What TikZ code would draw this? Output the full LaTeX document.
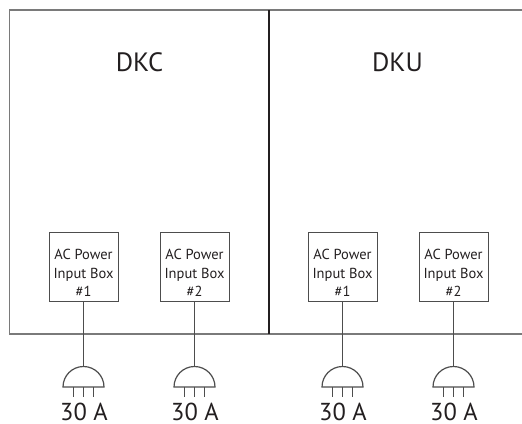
\documentclass[tikz,border=0pt]{standalone}
\usepackage{fontspec}
\setmainfont{PT Sans}
\definecolor{ink}{HTML}{231F20}
\definecolor{frame}{HTML}{7A7A7A}
\definecolor{wire}{HTML}{4D4D4D}
\begin{document}
\begin{tikzpicture}[x=1pt,y=-1pt,
  pbox/.style={draw=wire,line width=1pt,minimum width=69pt,minimum height=69pt,inner sep=0pt},
  ptext/.style={text=ink,align=center,font=\fontsize{14.5}{18.5}\selectfont,inner sep=0pt},
  biglabel/.style={text=ink,font=\fontsize{26.5}{30}\selectfont,anchor=base,inner sep=0pt},
  amps/.style={text=ink,font=\fontsize{24.5}{28}\selectfont,anchor=base,inner sep=0pt},
  wireline/.style={draw=wire,line width=1.2pt},
  plugline/.style={draw=wire,line width=1.2pt}]
\useasboundingbox (0,0) rectangle (522,423);
% cabinets
\draw[frame,line width=1.6pt] (269,10) -- (9.5,10) -- (9.5,334) -- (269,334);
\draw[frame,line width=1.6pt] (269,10) -- (530,10);
\draw[frame,line width=1.6pt] (269,334) -- (530,334);
\draw[ink,line width=2pt] (269,10) -- (269,334);
\node[biglabel] (dkc) at (139.5,71) {DKC};
\node[biglabel] (dku) at (397.5,71) {DKU};
% power input boxes
\foreach \i/\x/\n in {1/83.5/1, 2/194.5/2, 3/342.5/1, 4/453.5/2}{
  \node[pbox] (b\i) at (\x,266.5) {};
  \node[ptext] (t\i) at ([yshift=-6.5pt]b\i.center) {AC Power\\Input Box\\\#\n};
  \coordinate (p\i) at (\x,366.5);
  \draw[wireline] (b\i.south) -- (p\i);
  \draw[plugline] ([xshift=-20.5pt,yshift=-20.5pt]p\i) arc[start angle=180,end angle=360,radius=20.5] -- cycle;
  \foreach \d in {-10,0,10}{
    \draw[plugline] ([xshift=\d pt,yshift=-20.5pt]p\i) -- ([xshift=\d pt,yshift=-30.5pt]p\i);
  }
  \node[amps] (a\i) at (\x+0.5,420) {30 A};
}
\end{tikzpicture}
\end{document}
